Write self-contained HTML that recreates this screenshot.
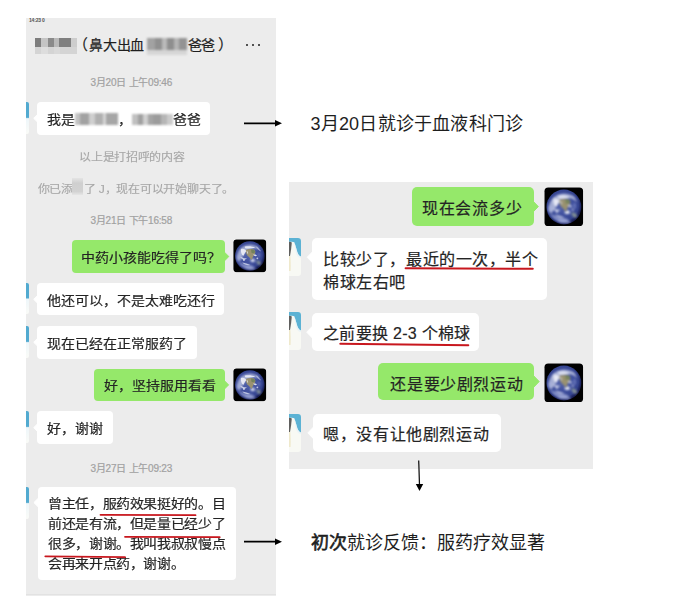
<!DOCTYPE html>
<html lang="zh-CN">
<head>
<meta charset="utf-8">
<style>
html,body{margin:0;padding:0;background:#fff;}
body{width:689px;height:613px;position:relative;overflow:hidden;font-family:"Liberation Sans",sans-serif;color:#1b1b1b;}
.abs{position:absolute;}
.bb{position:absolute;}
.tri{position:absolute;left:0;top:0;overflow:visible;}
.t{position:absolute;white-space:nowrap;}
.m{-webkit-text-stroke:0.2px #242424;}
.av{position:absolute;}
.mos{position:absolute;}
.mos i{position:absolute;display:block;}
</style>
</head>
<body>
<svg width="0" height="0" style="position:absolute">
 <defs>
  <radialGradient id="gl" cx="46%" cy="44%" r="54%">
   <stop offset="0" stop-color="#5565ac"/>
   <stop offset="0.55" stop-color="#3f4f9e"/>
   <stop offset="0.85" stop-color="#33428e"/>
   <stop offset="1" stop-color="#181e56"/>
  </radialGradient>
  <filter id="bl" x="-10%" y="-10%" width="120%" height="120%"><feGaussianBlur stdDeviation="1.3"/></filter>
  <filter id="bl3" x="-50%" y="-10%" width="200%" height="120%"><feGaussianBlur stdDeviation="0.35"/></filter>
  <filter id="bl2" x="-10%" y="-10%" width="120%" height="120%"><feGaussianBlur stdDeviation="0.9"/></filter>
  <clipPath id="gc"><circle cx="20.1" cy="20.2" r="17.4"/></clipPath>
  <symbol id="earth" viewBox="0 0 40 40">
   <rect x="0" y="0" width="40" height="40" rx="4.2" fill="#f8f8f8"/>
   <rect x="0.5" y="0.5" width="39" height="39" rx="3.7" fill="#000"/>
   <circle cx="20.1" cy="20.2" r="17.6" fill="url(#gl)"/>
   <g clip-path="url(#gc)">
    <g filter="url(#bl)">
     <path d="M7 14 C10 9 16 6.5 23 7 C27 7.5 30 9 32 12 C28 11.5 24 11 20.5 12 C16 13.5 13 17 11.5 21 C10 24 8.5 26 6.5 27 C4.5 22 4.5 18 7 14Z" fill="#c6cce6" opacity="0.75"/>
     <path d="M6 27 C10 28.5 14 30 18 30.5 C22 31 25.5 33 27.5 36 C20 38.5 11 35.5 6 27Z" fill="#95a0d4" opacity="0.75"/>
     <ellipse cx="23.5" cy="25.5" rx="2.6" ry="1.9" fill="#e2e6f3"/>
     <path d="M27.5 26 C30.5 25 33.5 27 33.5 30 C31.5 32 28.5 31 27.5 26Z" fill="#8c9a94" opacity="0.85"/>
     <ellipse cx="5.8" cy="22" rx="1.6" ry="3.5" fill="#a9b3e0" opacity="0.8"/>
     <ellipse cx="31" cy="19" rx="1.6" ry="3.2" fill="#7a88c8" opacity="0.6"/>
     <ellipse cx="19" cy="34" rx="5" ry="1.5" fill="#aab4e0" opacity="0.6"/>
    </g>
    <g filter="url(#bl2)">
     <path d="M15 13 C18 12 21.5 11.5 25 12.5 C27 14 27 16.5 25.5 18.5 C24 20.5 23 22.5 22.5 25 C21 24 19.5 21.5 18 20.5 C16 19 15.3 16 15 13Z" fill="#9a9270"/>
     <path d="M21.5 12.5 C24 12 26.5 13 26.5 15.5 C25.5 17 23.5 17.5 22 16.5Z" fill="#6c8058" opacity="0.85"/>
     <path d="M9.5 12 C12 11 15 12 16 14.5 C14.5 15.5 13.5 18 12.5 20 C10.5 19.5 9 15.5 9.5 12Z" fill="#eef0f8" opacity="0.9"/>
     <path d="M14 9 C18 8 23 8.5 26.5 10.3 C23 11.3 18.5 11.5 14.5 11Z" fill="#f0f2fa" opacity="0.85"/>
     <path d="M24 18.5 C26 18 28 18.5 28.5 20 C27 21 25 20.5 24 18.5Z" fill="#eceef6" opacity="0.9"/>
     <path d="M8.5 21 C11 22 13.5 23 16.5 23 C15 25.5 11 25.5 8.5 21Z" fill="#dde1f1" opacity="0.8"/>
     <path d="M16.5 14 C17.8 15 18.3 16.5 17.8 18 C16.8 17 16.3 15.5 16.5 14Z" fill="#e0e3ef" opacity="0.8"/>
     <path d="M11 28 C14.5 28.5 18 29.5 20.5 31 C17 31.8 13.5 30.8 11 28Z" fill="#d2d8ee" opacity="0.8"/>
     <path d="M27 8.5 C30 10 32.5 12.5 33.5 15 C31 14 28.5 11.5 27 8.5Z" fill="#d0d6ee" opacity="0.7"/>
     <circle cx="13" cy="25" r="1.2" fill="#e8ebf6" opacity="0.8"/>
     <circle cx="29" cy="23" r="1.1" fill="#dfe3f2" opacity="0.8"/>
    </g>
   </g>
  </symbol>
  <symbol id="cutav" viewBox="0 0 12 38">
   <path d="M0 0 H9 Q12 0 12 3 V35 Q12 38 9 38 H0Z" fill="#f8f9f4"/>
   <path d="M0 0 H9 Q12 0 12 3 V18.5 C10.5 18.3 9.2 16.5 8.3 14 C7.3 11 6.3 7 5.3 4.3 C4 4 2.5 3.8 0 3.8 Z" fill="#5cb2d4"/>
   <path d="M0 3.8 C1.2 3.8 2.2 4 2.8 4.5 C2.4 9 1.8 14 1 18 L0 18 Z" fill="#3a3a3a" opacity="0.8" filter="url(#bl3)"/>
   <path d="M0 18 L1.4 18 C1.7 24 1.9 30 1.5 33 L0 33Z" fill="#efe9cc"/>
   <path d="M5.3 4.3 C6.5 7 7.5 11 8.3 14 C9.2 16.5 10.5 18.3 12 18.5 V20 C10 20 8 18 7 15Z" fill="#e4f1f8" opacity="0.7"/>
  </symbol>
 </defs>
</svg>

<div class="abs" style="left:26.2px;top:18.3px;width:249.8px;height:577.4px;background:#ececec"></div>
<div class="abs" style="left:26.2px;top:593.9px;width:249.8px;height:1px;background:#e2e2e2"></div>
<div class="t" style="left:29px;top:15.5px;font-size:5px;line-height:8px;color:#555;font-weight:bold;letter-spacing:-0.2px">14:23 0</div>
<div class="mos" style="left:35px;top:38px;filter:blur(0.6px)"><i style="left:0px;top:0px;width:6px;height:9px;background:#7d7d7d"></i><i style="left:6px;top:0px;width:7px;height:9px;background:#c4c4c4"></i><i style="left:13px;top:0px;width:6px;height:9px;background:#8a8a8a"></i><i style="left:19px;top:0px;width:5px;height:9px;background:#b9b9b9"></i><i style="left:24px;top:0px;width:12px;height:9px;background:#7f7f7f"></i><i style="left:36px;top:0px;width:6px;height:9px;background:#cdcdcd"></i><i style="left:0px;top:9px;width:42px;height:7px;background:#d4d4d4"></i><i style="left:6px;top:9px;width:7px;height:7px;background:#dddddd"></i><i style="left:19px;top:9px;width:6px;height:7px;background:#d9d9d9"></i></div>
<div class="t" style="left:73px;top:35px;font-size:15px;line-height:20px;color:#1e1e1e;-webkit-text-stroke:0.2px #1e1e1e;">（</div>
<div class="t" style="left:89px;top:35px;font-size:14px;line-height:20px;color:#1e1e1e;-webkit-text-stroke:0.2px #1e1e1e;letter-spacing:-0.2px">鼻大出血</div>
<div class="mos" style="left:146.5px;top:38px;filter:blur(0.8px)"><i style="left:0px;top:0px;width:8px;height:12px;background:#a2a2a2"></i><i style="left:8px;top:0px;width:7px;height:12px;background:#909090"></i><i style="left:15px;top:0px;width:5px;height:12px;background:#bababa"></i><i style="left:20px;top:0px;width:7px;height:12px;background:#8e8e8e"></i><i style="left:27px;top:0px;width:5px;height:12px;background:#b4b4b4"></i><i style="left:32px;top:0px;width:8.5px;height:12px;background:#939393"></i><i style="left:0px;top:12px;width:40.5px;height:5px;background:#d6d6d6"></i></div>
<div class="t" style="left:188px;top:35px;font-size:14px;line-height:20px;color:#1e1e1e;-webkit-text-stroke:0.2px #1e1e1e;letter-spacing:-0.6px">爸爸</div>
<div class="t" style="left:218px;top:35px;font-size:15px;line-height:20px;color:#1e1e1e;-webkit-text-stroke:0.2px #1e1e1e;">）</div>
<div class="abs" style="left:245.5px;top:43.6px;width:2.7px;height:2.7px;border-radius:50%;background:#1e1e1e"></div>
<div class="abs" style="left:251.5px;top:43.6px;width:2.7px;height:2.7px;border-radius:50%;background:#1e1e1e"></div>
<div class="abs" style="left:257.5px;top:43.6px;width:2.7px;height:2.7px;border-radius:50%;background:#1e1e1e"></div>
<div class="t" style="left:90.5px;top:72.8px;font-size:10px;line-height:20px;color:#a0a0a0;letter-spacing:-0.23px;-webkit-text-stroke:0.22px #a4a4a4">3月20日 上午09:46</div>
<div class="bb" style="left:37.3px;top:102px;width:173.2px;height:32.5px;border-radius:4px;background:#fff"></div>
<svg class="tri" width="689" height="613"><polygon points="38.3,113.65 33.699999999999996,118.25 38.3,122.85" fill="#fff" stroke="#fff" stroke-width="1" stroke-linejoin="round"/></svg>
<div class="abs" style="left:26.2px;top:101.6px;width:2.8px;height:32px;border-radius:0 2px 2px 0;background:linear-gradient(180deg,#52aad0 0,#52aad0 48%,#eef6fa 52%,#fafbf7 100%)"></div>
<div class="t m" style="left:47px;top:109.5px;font-size:14px;line-height:20px;color:#242424;transform:scaleY(0.9);transform-origin:0 9.5px">我是<span style="display:inline-block;width:43px"></span>，<span style="display:inline-block;width:41px"></span>爸爸</div>
<div class="mos" style="left:74.5px;top:113px;filter:blur(0.8px)"><i style="left:0px;top:0px;width:5px;height:12px;background:#c4c4c4"></i><i style="left:5px;top:0px;width:9px;height:12px;background:#a2a2a2"></i><i style="left:14px;top:0px;width:6px;height:12px;background:#cfcfcf"></i><i style="left:20px;top:0px;width:8px;height:12px;background:#b0b0b0"></i><i style="left:28px;top:0px;width:3px;height:12px;background:#d6d6d6"></i><i style="left:31px;top:0px;width:12px;height:12px;background:#a6a6a6"></i></div>
<div class="mos" style="left:131.5px;top:114px;filter:blur(0.8px)"><i style="left:0px;top:0px;width:6px;height:11px;background:#c0c0c0"></i><i style="left:6px;top:0px;width:5px;height:11px;background:#a0a0a0"></i><i style="left:11px;top:0px;width:5px;height:11px;background:#d0d0d0"></i><i style="left:16px;top:0px;width:5px;height:11px;background:#a5a5a5"></i><i style="left:21px;top:0px;width:8px;height:11px;background:#9c9c9c"></i><i style="left:29px;top:0px;width:6px;height:11px;background:#b6b6b6"></i><i style="left:35px;top:0px;width:6px;height:11px;background:#cccccc"></i></div>
<div class="t" style="left:79.2px;top:147.2px;font-size:12px;line-height:20px;color:#a6a6a6;transform:scaleY(0.9);transform-origin:0 9.5px;-webkit-text-stroke:0.15px #aaa;letter-spacing:-0.32px">以上是打招呼的内容</div>
<div class="t" style="left:37.5px;top:178.5px;font-size:12px;line-height:20px;color:#a6a6a6;-webkit-text-stroke:0.15px #aaa;letter-spacing:-0.22px;transform:scaleY(0.9);transform-origin:0 9.5px">你已添<span style="display:inline-block;width:11px"></span>了 J，现在可以开始聊天了。</div>
<div class="abs" style="left:72px;top:178px;width:11px;height:17px;background:linear-gradient(180deg,#e4e4e4 0,#cfcfcf 30%,#d2d2d2 80%,#e6e6e6 100%)"></div>
<div class="t" style="left:90.5px;top:210.5px;font-size:10px;line-height:20px;color:#a0a0a0;letter-spacing:-0.23px;-webkit-text-stroke:0.22px #a4a4a4">3月21日 下午16:58</div>
<div class="bb" style="left:71.5px;top:240.3px;width:153.7px;height:32.5px;border-radius:4px;background:#95e86a"></div>
<svg class="tri" width="689" height="613"><polygon points="224.2,251.95000000000002 228.79999999999998,256.55 224.2,261.15000000000003" fill="#95e86a" stroke="#95e86a" stroke-width="1" stroke-linejoin="round"/></svg>
<div class="t m" style="left:81px;top:248.3px;font-size:14px;line-height:20px;color:#242424;transform:scaleY(0.9);transform-origin:0 9.5px;">中药小孩能吃得了吗？</div>
<svg class="av" style="left:233.2px;top:239.4px" width="33.6" height="33.6" viewBox="0 0 40 40"><use href="#earth"/></svg>
<div class="bb" style="left:37.3px;top:283.2px;width:186.7px;height:32.3px;border-radius:4px;background:#fff"></div>
<svg class="tri" width="689" height="613"><polygon points="38.3,294.74999999999994 33.699999999999996,299.34999999999997 38.3,303.95" fill="#fff" stroke="#fff" stroke-width="1" stroke-linejoin="round"/></svg>
<div class="abs" style="left:26.2px;top:283.2px;width:2.8px;height:31px;border-radius:0 2px 2px 0;background:linear-gradient(180deg,#52aad0 0,#52aad0 48%,#eef6fa 52%,#fafbf7 100%)"></div>
<div class="t m" style="left:47px;top:290.5px;font-size:14px;line-height:20px;color:#242424;transform:scaleY(0.9);transform-origin:0 9.5px;">他还可以，不是太难吃还行</div>
<div class="bb" style="left:37.3px;top:326px;width:159.3px;height:32.5px;border-radius:4px;background:#fff"></div>
<svg class="tri" width="689" height="613"><polygon points="38.3,337.65 33.699999999999996,342.25 38.3,346.85" fill="#fff" stroke="#fff" stroke-width="1" stroke-linejoin="round"/></svg>
<div class="abs" style="left:26.2px;top:326px;width:2.8px;height:32px;border-radius:0 2px 2px 0;background:linear-gradient(180deg,#52aad0 0,#52aad0 48%,#eef6fa 52%,#fafbf7 100%)"></div>
<div class="t m" style="left:47px;top:333.5px;font-size:14px;line-height:20px;color:#242424;transform:scaleY(0.9);transform-origin:0 9.5px;">现在已经在正常服药了</div>
<div class="bb" style="left:93.9px;top:368.5px;width:131.1px;height:32.8px;border-radius:4px;background:#95e86a"></div>
<svg class="tri" width="689" height="613"><polygon points="224.0,380.29999999999995 228.6,384.9 224.0,389.5" fill="#95e86a" stroke="#95e86a" stroke-width="1" stroke-linejoin="round"/></svg>
<div class="t m" style="left:103.5px;top:376px;font-size:14px;line-height:20px;color:#242424;transform:scaleY(0.9);transform-origin:0 9.5px;">好，坚持服用看看</div>
<svg class="av" style="left:233.2px;top:368px" width="33.6" height="33.6" viewBox="0 0 40 40"><use href="#earth"/></svg>
<div class="bb" style="left:37.3px;top:411.3px;width:75.7px;height:32.7px;border-radius:4px;background:#fff"></div>
<svg class="tri" width="689" height="613"><polygon points="38.3,423.05 33.699999999999996,427.65000000000003 38.3,432.25000000000006" fill="#fff" stroke="#fff" stroke-width="1" stroke-linejoin="round"/></svg>
<div class="abs" style="left:26.2px;top:411px;width:2.8px;height:32px;border-radius:0 2px 2px 0;background:linear-gradient(180deg,#52aad0 0,#52aad0 48%,#eef6fa 52%,#fafbf7 100%)"></div>
<div class="t m" style="left:47px;top:418.9px;font-size:14px;line-height:20px;color:#242424;transform:scaleY(0.9);transform-origin:0 9.5px;">好，谢谢</div>
<div class="t" style="left:90.5px;top:458.5px;font-size:10px;line-height:20px;color:#a0a0a0;letter-spacing:-0.23px;-webkit-text-stroke:0.22px #a4a4a4">3月27日 上午09:23</div>
<div class="bb" style="left:37.5px;top:486.8px;width:198.4px;height:93.6px;border-radius:4px;background:#fff"></div>
<svg class="tri" width="689" height="613"><polygon points="38.5,498.0 33.9,502.6 38.5,507.20000000000005" fill="#fff" stroke="#fff" stroke-width="1" stroke-linejoin="round"/></svg>
<div class="abs" style="left:26.2px;top:486.5px;width:2.8px;height:32px;border-radius:0 2px 2px 0;background:linear-gradient(180deg,#52aad0 0,#52aad0 48%,#eef6fa 52%,#fafbf7 100%)"></div>
<div class="t m" style="left:48px;top:493.8px;font-size:14px;line-height:20px;color:#242424;transform:scaleY(0.9);transform-origin:0 9.5px;letter-spacing:-0.37px">曾主任，服药效果挺好的。目</div>
<div class="t m" style="left:48px;top:514.0px;font-size:14px;line-height:20px;color:#242424;transform:scaleY(0.9);transform-origin:0 9.5px;letter-spacing:-0.37px">前还是有流，但是量已经少了</div>
<div class="t m" style="left:48px;top:534.2px;font-size:14px;line-height:20px;color:#242424;transform:scaleY(0.9);transform-origin:0 9.5px;letter-spacing:-0.37px">很多，谢谢。我叫我叔叔慢点</div>
<div class="t m" style="left:48px;top:554.4px;font-size:14px;line-height:20px;color:#242424;transform:scaleY(0.9);transform-origin:0 9.5px;letter-spacing:-0.37px">会再来开点药，谢谢。</div>
<svg class="tri" width="689" height="613"><line x1="100.5" y1="514.8" x2="195.5" y2="515.2" stroke="#c8171e" stroke-width="1.8" stroke-linecap="round"/></svg>
<svg class="tri" width="689" height="613"><line x1="125" y1="536.8" x2="219.7" y2="537.2" stroke="#c8171e" stroke-width="1.8" stroke-linecap="round"/></svg>
<svg class="tri" width="689" height="613"><line x1="45.3" y1="556.3" x2="125" y2="557.2" stroke="#c8171e" stroke-width="1.8" stroke-linecap="round"/></svg>
<svg class="tri" width="689" height="613"><line x1="244" y1="123.3" x2="277" y2="123.3" stroke="#000" stroke-width="1.7"/><polygon points="275,120.1 282,123.3 275,126.5" fill="#000"/></svg>
<svg class="tri" width="689" height="613"><line x1="244" y1="541.7" x2="277" y2="541.7" stroke="#000" stroke-width="1.7"/><polygon points="275,538.5 282,541.7 275,544.9000000000001" fill="#000"/></svg>
<div class="t" style="left:310.5px;top:112.5px;font-size:18px;line-height:22px;color:#1e1e1e;letter-spacing:0.2px">3月20日就诊于血液科门诊</div>
<div class="t" style="left:310.7px;top:532px;font-size:18px;line-height:22px;color:#1e1e1e;"><span style="-webkit-text-stroke:0.6px #1e1e1e">初次</span>就诊反馈：服药疗效显著</div>
<div class="abs" style="left:289px;top:182px;width:303.8px;height:287px;background:#ececec"></div>
<div class="bb" style="left:411.5px;top:187px;width:122px;height:39.2px;border-radius:5px;background:#95e86a"></div>
<svg class="tri" width="689" height="613"><polygon points="532.5,200.6 538.3,206.6 532.5,212.6" fill="#95e86a" stroke="#95e86a" stroke-width="1" stroke-linejoin="round"/></svg>
<div class="t m" style="left:421.8px;top:199px;font-size:16px;line-height:20px;color:#242424;letter-spacing:0.85px">现在会流多少</div>
<svg class="av" style="left:544.1px;top:187px" width="39.6" height="39.6" viewBox="0 0 40 40"><use href="#earth"/></svg>
<div class="bb" style="left:312px;top:238.1px;width:235.4px;height:62px;border-radius:5px;background:#fff"></div>
<svg class="tri" width="689" height="613"><polygon points="313,251.3 307.2,257.3 313,263.3" fill="#fff" stroke="#fff" stroke-width="1" stroke-linejoin="round"/></svg>
<svg class="av" style="left:289px;top:238px" width="12" height="38" viewBox="0 0 12 38"><use href="#cutav"/></svg>
<div class="t m" style="left:323.3px;top:249.6px;font-size:16px;line-height:20px;color:#242424;letter-spacing:0.55px">比较少了，最近的一次，半个</div>
<div class="t m" style="left:323.3px;top:272.8px;font-size:16px;line-height:20px;color:#242424;letter-spacing:0.55px">棉球左右吧</div>
<svg class="tri" width="689" height="613"><line x1="405.6" y1="268.3" x2="532.8" y2="268.8" stroke="#c8171e" stroke-width="2" stroke-linecap="round"/></svg>
<div class="bb" style="left:311.5px;top:312.8px;width:167.2px;height:38.7px;border-radius:5px;background:#fff"></div>
<svg class="tri" width="689" height="613"><polygon points="312.5,326.15000000000003 306.7,332.15000000000003 312.5,338.15000000000003" fill="#fff" stroke="#fff" stroke-width="1" stroke-linejoin="round"/></svg>
<svg class="av" style="left:289px;top:312px" width="12" height="38" viewBox="0 0 12 38"><use href="#cutav"/></svg>
<div class="t m" style="left:323px;top:323.5px;font-size:16px;line-height:20px;color:#242424;letter-spacing:0.3px">之前要换 2-3 个棉球</div>
<svg class="tri" width="689" height="613"><line x1="340.3" y1="343.7" x2="468.3" y2="345.3" stroke="#c8171e" stroke-width="2" stroke-linecap="round"/></svg>
<div class="bb" style="left:377.8px;top:362.6px;width:156.6px;height:37.9px;border-radius:5px;background:#95e86a"></div>
<svg class="tri" width="689" height="613"><polygon points="533.4,375.55 539.1999999999999,381.55 533.4,387.55" fill="#95e86a" stroke="#95e86a" stroke-width="1" stroke-linejoin="round"/></svg>
<div class="t m" style="left:390.4px;top:374.5px;font-size:16px;line-height:20px;color:#242424;letter-spacing:0.6px">还是要少剧烈运动</div>
<svg class="av" style="left:544.1px;top:362.6px" width="39.6" height="39.6" viewBox="0 0 40 40"><use href="#earth"/></svg>
<div class="bb" style="left:312.6px;top:414px;width:188.1px;height:37.8px;border-radius:5px;background:#fff"></div>
<svg class="tri" width="689" height="613"><polygon points="313.6,426.9 307.8,432.9 313.6,438.9" fill="#fff" stroke="#fff" stroke-width="1" stroke-linejoin="round"/></svg>
<svg class="av" style="left:289px;top:414px" width="12" height="38" viewBox="0 0 12 38"><use href="#cutav"/></svg>
<div class="t m" style="left:323.3px;top:424.8px;font-size:16px;line-height:20px;color:#242424;letter-spacing:0.6px">嗯，没有让他剧烈运动</div>
<svg class="tri" width="689" height="613"><line x1="418.7" y1="460.5" x2="419.5" y2="485" stroke="#111" stroke-width="1.25"/><polygon points="415.8,484 423.2,484 419.5,491" fill="#000"/></svg>
</body>
</html>
